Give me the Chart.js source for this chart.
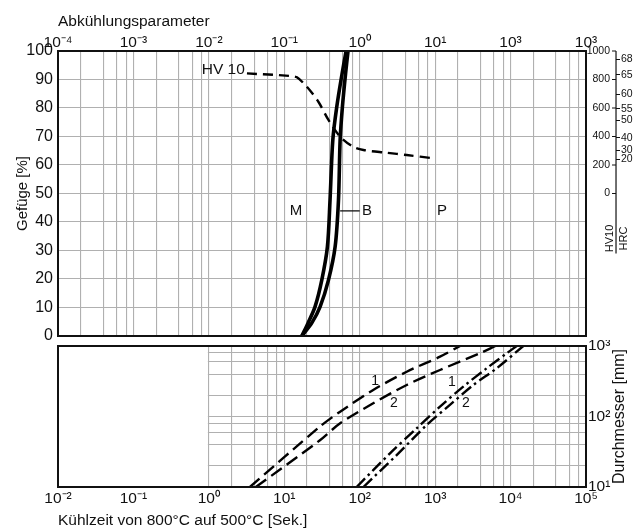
<!DOCTYPE html>
<html>
<head>
<meta charset="utf-8">
<script src="https://cdn.jsdelivr.net/npm/chart.js@4.4.1/dist/chart.umd.min.js"></script>
<style>
  html, body { margin: 0; padding: 0; background: #fff; }
  #wrap { position: relative; width: 639px; height: 530px; }
  #c1 { position: absolute; left: 0; top: 0; }
  #c2 { position: absolute; left: 0; top: 340px; }
</style>
</head>
<body>
<div id="wrap">
  <canvas id="c1" width="639" height="340"></canvas>
  <canvas id="c2" width="639" height="190"></canvas>
</div>
<script>
const FONT = "'Liberation Sans', Arial, sans-serif";

// tick labels (as printed on the sheet)
const topTickLabels = ['10⁻⁴', '10⁻³', '10⁻²', '10⁻¹', '10⁰', '10¹', '10³', '10³'];
const bottomTickLabels = ['10⁻²', '10⁻¹', '10⁰', '10¹', '10²', '10³', '10⁴', '10⁵'];
const diameterTickLabels = ['10¹', '10²', '10³'];
const hvTicks = [0, 200, 400, 600, 800, 1000];
const hrcLabels = [68, 65, 60, 55, 50, 40, 30, 20];
const hrcAsHV = [940, 832, 697, 595, 513, 392, 302, 238];

// upper diagram, x = Abkühlungsparameter
const structPct = [0, 4.6, 10.3, 19.6, 31.3, 47.7, 68.8, 80.5, 92.2, 100];
const curveM = [0.171, 0.207, 0.256, 0.314, 0.373, 0.404, 0.44, 0.497, 0.585, 0.66];
const curveB = [0.171, 0.232, 0.299, 0.385, 0.472, 0.523, 0.55, 0.59, 0.65, 0.70];

const hvLambda = [0.032, 0.119, 0.147, 0.199, 0.283, 0.385, 0.55, 0.82, 1.12, 2.29, 4.2, 9.5];
const hvValues = [843, 825, 815, 749, 644, 516, 399, 328, 305, 286, 270, 247];

const phaseLabels = [
  { text: 'M', x: 0.143, y: 43.9, align: 'center' },
  { text: 'B', x: 1.25, y: 43.9, align: 'center' },
  { text: 'P', x: 12.3, y: 43.9, align: 'center' }
];
const hvLabel = { text: 'HV 10', x: 0.030, y: 872 };

// lower diagram, x = Kühlzeit t8/5 [s], y = Durchmesser [mm]
const dash1Time = [3.5, 29.7, 55, 151, 420, 1160, 2140];
const dash1Dia = [10, 72, 117, 238, 432, 705, 1000];
const dash2Time = [4.2, 29.7, 55, 151, 420, 1160, 3900, 6300];
const dash2Dia = [10, 46, 80, 154, 280, 457, 788, 1000];
const dot1Time = [91, 252, 569, 1160, 2360, 4820, 8890, 12050];
const dot1Dia = [10, 30, 68, 138, 265, 483, 788, 1000];
const dot2Time = [112, 309, 773, 1570, 3210, 6550, 14750];
const dot2Dia = [10, 28.4, 75.7, 146, 280, 483, 1000];

const curveLabels = [
  { text: '1', x: 160, y: 319 },
  { text: '2', x: 284, y: 155 },
  { text: '1', x: 1670, y: 308 },
  { text: '2', x: 2565, y: 155 }
];

const hvAxisAt = 2500;  // lambda value where the HV/HRC scale line stands
const hvLabelAt = 2080; // HV numbers end a little left of it

function pairs(xs, ys) {
  return xs.map((x, i) => ({ x: x, y: ys[i] }));
}

// decades plus 2,4,6,8 lines in between
function logGrid(min, max) {
  const out = [];
  const e0 = Math.round(Math.log10(min));
  const e1 = Math.round(Math.log10(max));
  for (let e = e0; e < e1; e++) {
    const base = Math.pow(10, e);
    [1, 2, 4, 6, 8].forEach(m => out.push({ value: m * base, major: m === 1 }));
  }
  out.push({ value: max, major: true });
  return out;
}

function decadeLabel(labels, min) {
  return (value) => {
    const e = Math.log10(value);
    if (Math.abs(e - Math.round(e)) > 1e-6) return '';
    return labels[Math.round(e) - Math.round(Math.log10(min))];
  };
}

// keep the plot frame where it is, labels may hang over
function noPad(s) {
  s.paddingTop = 0;
  s.paddingBottom = 0;
  s.paddingLeft = 0;
  s.paddingRight = 0;
}

const GRID = '#b0b0b0';

const frame = {
  id: 'frame',
  afterDatasetsDraw(chart) {
    const { ctx, chartArea: { left, top, right, bottom } } = chart;
    ctx.save();
    ctx.strokeStyle = '#111';
    ctx.lineWidth = 2;
    ctx.strokeRect(left, top, right - left, bottom - top);
    ctx.restore();
  }
};

const upperExtras = {
  id: 'upperExtras',
  afterDatasetsDraw(chart) {
    const { ctx } = chart;
    const xs = chart.scales.lam, ys = chart.scales.pct, hv = chart.scales.hv;
    ctx.save();
    ctx.fillStyle = '#111';
    ctx.strokeStyle = '#111';
    ctx.textBaseline = 'middle';
    ctx.font = '15px ' + FONT;
    phaseLabels.forEach(l => {
      ctx.textAlign = l.align;
      ctx.fillText(l.text, xs.getPixelForValue(l.x), ys.getPixelForValue(l.y));
    });
    // leader from curve B to its letter
    const yB = ys.getPixelForValue(43.9);
    ctx.lineWidth = 1.3;
    ctx.beginPath();
    ctx.moveTo(xs.getPixelForValue(0.55), yB);
    ctx.lineTo(xs.getPixelForValue(1.0), yB);
    ctx.stroke();

    ctx.font = '15.5px ' + FONT;
    ctx.textAlign = 'right';
    ctx.fillText(hvLabel.text, xs.getPixelForValue(hvLabel.x), hv.getPixelForValue(hvLabel.y));

    // hardness scale line, HV tick marks and caption
    const ax = xs.getPixelForValue(hvAxisAt);
    const yTop = hv.getPixelForValue(1000), y0 = hv.getPixelForValue(0);
    ctx.lineWidth = 1.2;
    ctx.beginPath();
    ctx.moveTo(ax, yTop);
    ctx.lineTo(ax, y0 + 60);
    hvTicks.forEach(v => {
      const y = hv.getPixelForValue(v);
      ctx.moveTo(ax - 4, y);
      ctx.lineTo(ax, y);
    });
    ctx.stroke();
    ctx.font = '11px ' + FONT;
    ctx.translate(ax, y0 + 45);
    ctx.rotate(-Math.PI / 2);
    ctx.textAlign = 'center';
    ctx.textBaseline = 'bottom';
    ctx.fillText('HV10', 0, -1);
    ctx.textBaseline = 'top';
    ctx.fillText('HRC', 0, 2);
    ctx.restore();
  }
};

const lowerExtras = {
  id: 'lowerExtras',
  beforeDatasetsDraw(chart) {
    // no grid left of 10^0
    const { ctx, chartArea } = chart;
    const x1 = chart.scales.t.getPixelForValue(1);
    ctx.save();
    ctx.fillStyle = '#fff';
    ctx.fillRect(chartArea.left, chartArea.top, x1 - 1 - chartArea.left, chartArea.bottom - chartArea.top);
    ctx.restore();
  },
  afterDatasetsDraw(chart) {
    const { ctx, chartArea } = chart;
    const xs = chart.scales.t, ys = chart.scales.d;
    ctx.save();
    ctx.fillStyle = '#111';
    ctx.font = '14px ' + FONT;
    ctx.textAlign = 'center';
    ctx.textBaseline = 'middle';
    curveLabels.forEach(l => ctx.fillText(l.text, xs.getPixelForValue(l.x), ys.getPixelForValue(l.y)));
    ctx.font = '16px ' + FONT;
    ctx.translate(620, (chartArea.top + chartArea.bottom) / 2);
    ctx.rotate(-Math.PI / 2);
    ctx.fillText('Durchmesser [mm]', 0, 0);
    ctx.restore();
  }
};

const lineStyle = {
  borderColor: '#000',
  pointRadius: 0,
  fill: false
};

new Chart(document.getElementById('c1'), {
  type: 'line',
  data: {
    datasets: [
      Object.assign({ label: 'M', data: pairs(curveM, structPct), yAxisID: 'pct', xAxisID: 'lam', borderWidth: 3.6, tension: 0.3 }, lineStyle),
      Object.assign({ label: 'B', data: pairs(curveB, structPct), yAxisID: 'pct', xAxisID: 'lam', borderWidth: 3.6, tension: 0.3 }, lineStyle),
      Object.assign({ label: 'HV 10', data: pairs(hvLambda, hvValues), yAxisID: 'hv', xAxisID: 'lam', borderWidth: 2.4, borderDash: [10, 6], tension: 0.3 }, lineStyle)
    ]
  },
  options: {
    responsive: false,
    animation: false,
    events: [],
    layout: { padding: { left: 0, right: 0, top: 0, bottom: 4 } },
    plugins: { legend: { display: false }, tooltip: { enabled: false } },
    scales: {
      lam: {
        type: 'logarithmic',
        position: 'top',
        min: 1e-4,
        max: 1e3,
        afterBuildTicks: s => { s.ticks = logGrid(1e-4, 1e3); },
        afterFit: s => { s.height = 51; noPad(s); },
        grid: { color: GRID, lineWidth: 1.1, drawTicks: false },
        border: { display: false },
        ticks: {
          autoSkip: false, maxRotation: 0, padding: -1, color: '#111',
          font: { family: FONT, size: 15.5 },
          callback: decadeLabel(topTickLabels, 1e-4)
        },
        title: {
          display: true, text: 'Abkühlungsparameter', align: 'start', color: '#111',
          font: { family: FONT, size: 15.5 }, padding: { top: 12, bottom: 0 }
        }
      },
      pct: {
        type: 'linear',
        position: 'left',
        min: 0,
        max: 100,
        afterFit: s => { s.width = 58; noPad(s); },
        grid: { color: GRID, lineWidth: 1.1, drawTicks: false },
        border: { display: false },
        ticks: { stepSize: 10, padding: 5, color: '#111', font: { family: FONT, size: 16 } },
        title: {
          display: true, text: 'Gefüge [%]', color: '#111',
          font: { family: FONT, size: 15 }, padding: { top: 14, bottom: 0 }
        }
      },
      hv: {
        type: 'linear',
        position: { lam: hvLabelAt },
        min: -1000,
        max: 1000,
        afterBuildTicks: s => { s.ticks = hvTicks.map(v => ({ value: v })); },
        afterFit: noPad,
        grid: { drawOnChartArea: false, drawTicks: false },
        border: { display: false },
        ticks: {
          autoSkip: false, padding: 0, color: '#111', font: { family: FONT, size: 10.5 },
          callback: v => String(v)
        }
      },
      spacer: {
        type: 'linear',
        position: 'right',
        weight: 0,
        grid: { display: false },
        border: { display: false },
        ticks: { display: false },
        afterFit: s => { s.width = 30; noPad(s); }
      },
      hrc: {
        type: 'linear',
        position: 'right',
        weight: 1,
        min: -1000,
        max: 1000,
        afterBuildTicks: s => { s.ticks = hrcAsHV.map(v => ({ value: v })); },
        afterFit: s => { s.width = 23; noPad(s); },
        grid: { drawOnChartArea: false, color: '#111', tickLength: 4, lineWidth: 1 },
        border: { display: false },
        ticks: {
          autoSkip: false, padding: 1, color: '#111', font: { family: FONT, size: 10.5 },
          callback: (v, i) => hrcLabels[i]
        }
      }
    }
  },
  plugins: [upperExtras, frame]
});

new Chart(document.getElementById('c2'), {
  type: 'line',
  data: {
    datasets: [
      Object.assign({ label: '1', data: pairs(dash1Time, dash1Dia), borderWidth: 2.4, borderDash: [13, 6], tension: 0.3 }, lineStyle),
      Object.assign({ label: '2', data: pairs(dash2Time, dash2Dia), borderWidth: 2.4, borderDash: [13, 6], tension: 0.3 }, lineStyle),
      Object.assign({ label: '1', data: pairs(dot1Time, dot1Dia), borderWidth: 2.4, borderDash: [12, 4, 2.5, 4], tension: 0.3 }, lineStyle),
      Object.assign({ label: '2', data: pairs(dot2Time, dot2Dia), borderWidth: 2.4, borderDash: [12, 4, 2.5, 4], tension: 0.3 }, lineStyle)
    ].map(ds => Object.assign(ds, { xAxisID: 't', yAxisID: 'd' }))
  },
  options: {
    responsive: false,
    animation: false,
    events: [],
    layout: { padding: { left: 58, right: 0, top: 6, bottom: 0 } },
    plugins: { legend: { display: false }, tooltip: { enabled: false } },
    scales: {
      t: {
        type: 'logarithmic',
        position: 'bottom',
        min: 1e-2,
        max: 1e5,
        afterBuildTicks: s => { s.ticks = logGrid(1e-2, 1e5); },
        afterFit: s => { s.height = 43; noPad(s); },
        grid: { color: GRID, lineWidth: 1.1, drawTicks: false },
        border: { display: false },
        ticks: {
          autoSkip: false, maxRotation: 0, padding: 2, color: '#111',
          font: { family: FONT, size: 15.5 },
          callback: decadeLabel(bottomTickLabels, 1e-2)
        },
        title: {
          display: true, text: 'Kühlzeit von 800°C auf 500°C [Sek.]', align: 'start', color: '#111',
          font: { family: FONT, size: 15.5 }, padding: { top: 0, bottom: 0 }
        }
      },
      d: {
        type: 'logarithmic',
        position: 'right',
        min: 10,
        max: 1000,
        afterBuildTicks: s => { s.ticks = logGrid(10, 1000); },
        afterFit: s => { s.width = 53; noPad(s); },
        grid: { color: GRID, lineWidth: 1.1, drawTicks: false },
        border: { display: false },
        ticks: {
          autoSkip: false, padding: 2, color: '#111',
          font: { family: FONT, size: 15.5 },
          callback: decadeLabel(diameterTickLabels, 10)
        }
      }
    }
  },
  plugins: [lowerExtras, frame]
});
</script>
</body>
</html>
